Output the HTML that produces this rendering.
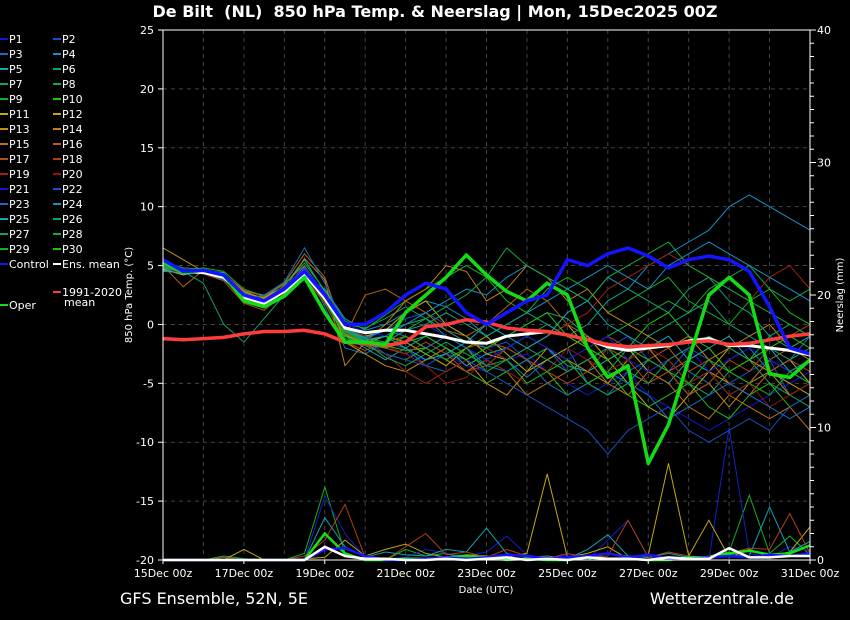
<!DOCTYPE html>
<html><head><meta charset="utf-8"><style>
html,body{margin:0;padding:0;background:#000;}
svg{display:block;font-family:"DejaVu Sans","Liberation Sans",sans-serif;}
</style></head><body>
<svg id="chart" width="850" height="620" viewBox="0 0 850 620">
<rect width="850" height="620" fill="#000"/>
<text x="435" y="17" fill="#fff" font-size="16" font-weight="bold" text-anchor="middle" style="white-space:pre">De Bilt  (NL)  850 hPa Temp. &amp; Neerslag | Mon, 15Dec2025 00Z</text>
<g id="grid"></g>
<g id="precip"></g>
<g id="temps"></g>
<g id="axes"></g>
<g id="legend"></g>
<text x="132" y="295" fill="#fff" font-size="10" text-anchor="middle" transform="rotate(-90 132 295)">850 hPa Temp. (°C)</text>
<text x="843" y="295" fill="#fff" font-size="10" text-anchor="middle" transform="rotate(-90 843 295)">Neerslag (mm)</text>
<text x="486" y="593" fill="#fff" font-size="10" text-anchor="middle">Date (UTC)</text>
<text x="120" y="604" fill="#fff" font-size="16">GFS Ensemble, 52N, 5E</text>
<text x="794" y="604" fill="#fff" font-size="16" text-anchor="end">Wetterzentrale.de</text>
</svg>
<script>
const xTickLabels=["15Dec 00z","17Dec 00z","19Dec 00z","21Dec 00z","23Dec 00z","25Dec 00z","27Dec 00z","29Dec 00z","31Dec 00z"];
const yTicks=[25,20,15,10,5,0,-5,-10,-15,-20];
const y2Ticks=[40,30,20,10,0];
const control=[5.5,4.5,4.6,4.2,2.5,2.0,3.0,4.5,2.5,0,0,1,2.5,3.5,3.0,1,0,1,2,2.5,5.5,5.0,6.0,6.5,5.8,4.8,5.5,5.8,5.5,4.5,1.5,-2,-2.5];
const ensMean=[5.3,4.5,4.4,4.0,2.3,1.8,2.8,4.3,2.2,-0.3,-0.7,-0.5,-0.5,-0.8,-1.1,-1.5,-1.6,-1.0,-0.8,-0.6,-0.9,-1.3,-1.9,-2.2,-2.0,-1.8,-1.4,-1.2,-1.8,-1.8,-2.0,-2.2,-2.6];
const oper=[5.3,4.4,4.6,4.2,2.0,1.5,2.4,4.0,1.0,-1.5,-1.5,-1.7,1.0,2.5,4.0,5.9,4.2,2.8,2.0,3.5,2.5,-2,-4.5,-3.5,-11.8,-8.5,-3,2.5,4,2.5,-4.2,-4.5,-3];
const clim=[-1.2,-1.3,-1.2,-1.1,-0.8,-0.6,-0.6,-0.5,-0.8,-1.5,-1.6,-1.8,-1.5,-0.2,0,0.4,0.2,-0.3,-0.5,-0.6,-0.9,-1.3,-1.7,-1.9,-1.8,-1.7,-1.5,-1.4,-1.7,-1.6,-1.3,-1.0,-0.8];
const p1=[5,4.4,4.6,4.1,2.2,1.8,3.2,4.8,2.0,-1,-1.5,-2,-2.5,-3,-2.5,-3.5,-4,-3,-2.5,-4,-5,-6,-5,-4,-6,-7,-8,-9,-8,-7,-6,-5,-4];
const p2=[5.2,4.6,4.4,4.2,2.6,1.5,2.8,4.0,2.5,-0.5,-1.2,-0.5,0.5,1,0,-1,-2,-1.5,-3,-2,-4,-3,-2,-1,-3,-4,-2,-3,-5,-4,-3,-6,-5];
const p3=[4.8,4.2,4.5,4.0,2.0,2.2,3.5,5.0,1.5,-2,-2.5,-1.5,-2,-3.5,-4,-3,-2,-3,-4.5,-3,-2,-5,-6,-4,-3,-2,-4,-5,-3,-2,-4,-3,-1];
const p4=[5.1,4.7,4.3,3.8,2.8,2.5,3.0,4.2,3.0,0.5,-0.5,0,1,2,1.5,0.5,-1,0,1,2,3,2,4,3,5,6,7,8,10,11,10,9,8];
const p5=[4.6,4.3,4.6,4.4,2.4,1.7,3.3,5.5,2.8,-1,-2,-3,-2,-1,-2,-3.5,-2.5,-2,-1,-2,-3.5,-4,-3,-2,-4,-5,-3,-4,-6,-5,-3,-4,-5];
const p6=[5.0,4.5,4.5,3.9,2.1,1.9,2.9,4.4,2.3,-0.8,-1.3,-1,0,0.5,-0.5,-1.5,-2,-1,0,1,0.5,-1,-2,-3,-1,0,1,2,0,-1,-2,-3,-2];
const p7=[5.3,4.8,4.7,4.3,2.7,2.1,3.1,4.6,2.6,0,-0.3,0.5,1.5,0.5,-1,-2,-3,-4,-3,-2,-3,-5,-6,-5,-3,-4,-5,-6,-4,-3,-5,-6,-7];
const p8=[4.9,4.4,4.4,4.0,2.3,1.6,2.7,4.1,2.1,-1.2,-1.8,-2.5,-3,-2,-1,-2,-3,-2,-1,0,-1,-2,-1,0,1,2,1,3,4,5,3,2,3];
const p9=[5.4,4.6,4.8,4.5,3.0,2.4,3.4,5.2,2.9,0.3,-0.4,0.8,2,3,4,5,4,2,1,3,4,3,1,2,3,4,2,1,0,2,3,1,0];
const p10=[5.0,4.3,4.5,4.1,2.4,1.8,3.0,4.5,2.4,-0.6,-1.4,-1.8,-2.2,-2,-3,-4,-5,-4,-3,-4,-6,-5,-4,-6,-7,-6,-5,-7,-8,-6,-5,-7,-6];
const p11=[5.2,4.5,4.3,3.9,2.5,2.0,2.9,4.3,2.2,-0.9,-1.6,-1,-1.5,-2.5,-3.5,-2,-1,-2.5,-4,-3,-2,-1,-3,-5,-7,-8,-6,-4,-5,-6,-4,-3,-5];
const p12=[4.7,4.2,4.6,4.2,2.6,2.3,3.2,4.7,2.7,-0.2,-1,-0.5,1,2,0,-1,-2.5,-3,-2,-1,0,-2,-3,-2,-4,-3,-5,-4,-2,-3,-4,-5,-6];
const p13=[6.5,5.5,4.5,4.2,2.8,2.2,3.1,4.9,2.6,-1.5,-2.5,-3.5,-4,-3,-2,-3,-5,-6,-4,-2,-3,-4,-5,-3,-2,-4,-6,-5,-7,-5,-4,-6,-5];
const p14=[5.1,4.6,4.5,4.0,2.3,1.9,3.0,5.6,3.8,-3.5,-1.5,0,2,3,5,4.5,2,3,5,4,2,3,1,0,-1,-2,-1,-3,-2,-1,0,-2,-3];
const p15=[5.3,4.7,4.4,4.1,2.4,2.0,3.3,4.4,2.4,-0.4,-1.1,-2,-1,-2,-3,-4,-3,-4,-6,-5,-4,-3,-5,-6,-4,-5,-7,-8,-6,-7,-8,-7,-9];
const p16=[5.0,3.2,4.6,4.3,2.9,2.4,3.5,6.0,4.0,-1,2.5,3,2,1,-0.5,-1,0,1.5,3,2,0,-1,-2,-4,-5,-4,-3,-2,-4,-5,-3,-2,-1];
const p17=[5.1,4.5,4.3,3.7,1.8,1.2,2.6,4.0,1.8,-1.5,-2.2,-1.5,-1,-2,-3,-2,-1.5,-2,-3,-4,-3,-2,-1,-2,-3,-2,-4,-3,-5,-6,-4,-3,-4];
const p18=[5.2,4.6,4.6,4.2,2.5,1.7,2.8,4.2,2.0,-0.7,-1.5,-2,-2.5,-1.5,-2.5,-4,-3.5,-2,-3,-4,-5,-4,-2,-3,-5,-4,-6,-5,-3,-4,-2,-1,0];
const p19=[5.0,4.4,4.4,4.0,2.0,1.5,2.9,4.3,2.1,-1,-1.7,-2.5,-4,-5,-4,-3,-2,-3,-2,-1,0,1,3,4,5,6,5,4,3,2,4,5,3];
const p20=[4.9,4.3,4.5,4.1,2.2,1.8,3.1,4.6,2.5,-0.3,-1,-1.8,-2.5,-3.5,-5,-4.5,-3,-4,-5,-4,-2,-3,-4,-3,-2,-3,-5,-4,-6,-5,-7,-6,-5];
const p21=[5.3,4.7,4.6,4.2,2.6,2.1,3.2,4.8,2.7,0,-0.6,-1,-0.5,0,-1,-2,-3,-2,-1,-2,-3,-2,-1,-3,-4,-3,-2,-4,-3,-2,-3,-4,-3];
const p22=[5.1,4.5,4.5,4.0,2.3,1.9,3.0,4.4,2.3,-0.5,-1.3,-2.5,-3,-3.5,-2.5,-3,-4,-5,-6,-7,-8,-9,-11,-9,-8,-7,-9,-10,-9,-8,-9,-7,-6];
const p23=[5.0,4.6,4.4,3.9,2.1,2.5,3.6,6.5,3.5,-0.2,-1.2,-0.5,-1,-2,-1,-2,-3.5,-4,-3,-5,-6,-5,-4,-5,-6,-8,-7,-6,-5,-6,-7,-8,-7];
const p24=[4.5,4.4,4.7,4.3,2.5,1.9,3.1,4.7,2.6,-0.4,-1.1,-0.5,0,1,2,3,2.5,4,5,4,3,4,5,4,3,5,6,7,6,5,4,3,2];
const p25=[4.8,4.5,4.5,4.1,2.4,2.0,3.0,4.5,2.4,-0.5,-1.4,-1,-2,-3,-2.5,-1.5,0,-1,-2,-1,1,2,0,-1,-2,-1,-3,-2,-1,-3,-2,-4,-3];
const p26=[5.2,4.6,4.4,4.2,2.5,2.0,3.0,4.4,2.4,-0.6,-1.2,-1.5,-0.5,0,1,0,-1,0,1,0,-1,0,2,3,2,1,3,4,2,1,-1,-2,-1];
const p27=[5.0,4.5,3.5,0,-1.5,0.5,2.5,4.5,2.6,-0.5,-1.5,-2.8,-3.5,-2.5,-1.5,-2.5,-3.5,-3,-2,-3,-4,-3,-2,-4,-5,-3,-2,-1,-2,-3,-1,0,-1];
const p28=[5.3,4.6,4.5,4.2,2.4,2.0,3.1,4.6,2.4,-0.4,-1.2,-1.5,-0.5,0.5,1.5,2.5,4,6.5,5,4,3,2,4,5,6,7,5,4,3,2,1,0,-1];
const p29=[5.1,4.5,4.6,4.1,2.3,1.9,3.0,4.4,2.1,-0.8,-1.5,-2,-1,-2,-3,-2,-4,-3,-5,-4,-3,-5,-4,-2,-3,-4,-5,-3,-4,-5,-6,-4,-5];
const p30=[4.9,4.4,4.5,4.0,2.2,1.8,2.9,4.3,2.0,-1,-1.7,-2,-1.5,-1,-2,-3,-2,-1,0,1,-1,-2,-3,-2,0,1,-1,-2,-4,-3,-2,-1,-2];
const members=[p1,p2,p3,p4,p5,p6,p7,p8,p9,p10,p11,p12,p13,p14,p15,p16,p17,p18,p19,p20,p21,p22,p23,p24,p25,p26,p27,p28,p29,p30];
const colors=["#1414d2","#1450c0","#1470c0","#1490c8","#14a8b4","#14a080","#14a060","#14a840","#14b020","#20c010","#b4b414","#c0a814","#c09014","#c08014","#c07014","#b06014","#b05014","#b04014","#a02014","#901414"];
/* precipitation (mm per 12h) */
const precMean=[0,0,0,0,0,0,0,0,1.0,0.3,0.1,0.1,0,0,0.1,0,0.1,0.2,0,0.1,0,0.2,0.1,0.1,0,0.2,0.1,0.1,0.9,0.2,0.2,0.3,0.3];
const precControl=[0,0,0,0,0,0,0,0,0.8,0.9,0.3,0,0,0.1,0.2,0.1,0.2,0.4,0.3,0.1,0.2,0.3,0.5,0.2,0.4,0.1,0.1,0.2,0.3,0.2,0.4,0.3,0.5];
const precOper=[0,0,0,0,0,0,0,0,2.0,0.5,0,0,0.1,0.1,0.2,0.3,0.2,0,0.1,0,0,0.2,0.1,0.1,0,0,0.2,0.2,0.5,0.7,0.4,0.5,1.1];
const precA=[0,0,0,0.3,0.1,0,0,0.5,5.5,0.5,0,0,0.8,0.3,0.5,0.1,0,0.4,0.3,0,0.2,0,0.5,0.3,0.2,0,0.1,0.3,0.6,4.9,0.5,1.8,0.4];
const precB=[0,0,0,0,0,0,0,0,4.8,2.0,0.2,0.1,0.2,0.8,0.5,0.3,0.6,1.8,0.4,0.1,0.4,0,1.5,3.0,0.2,0.1,0.3,0,10,0.5,0.2,1.0,0.7];
const precC=[0,0,0,0,0.8,0,0,0.1,0.2,1.5,0.3,0.8,1.2,0.5,0.2,0.4,0.3,0.2,0.5,6.5,0.2,0.5,1.0,0.1,0.4,7.3,0.3,3.0,0.2,0.8,0.3,0.6,2.5];
const precD=[0,0,0,0,0,0,0,0,3.2,1.0,0.2,0.6,0.4,0.3,0.8,0.6,2.4,0.5,0.2,0.3,0.1,0.8,1.9,0.3,0.2,0.5,0.2,0.1,0.4,0.3,4.0,0.6,1.4];
const precE=[0,0,0,0.2,0,0,0,0.3,1.5,4.2,0.2,0,1.0,2.0,0.4,0.6,0.2,0.8,0.3,0.1,0.5,0.2,0.3,3.0,0.2,0.6,0.3,0.2,0.5,0.9,0.8,3.5,0.5];
const precMembers=[precA,precB,precC,precD,precE];
const precColors=["#14b020","#1420c0","#c0a814","#14a0b4","#b04014"];

const X0=163,X1=810,Y0=30,Y1=560;
const nPts=control.length;
function xs(i){return X0+(X1-X0)*i/(nPts-1);}
function ys(t){return Y0+(25-t)*(Y1-Y0)/45;}
function yp(mm){return Y1-mm*(Y1-Y0)/40;}
const NS="http://www.w3.org/2000/svg";
function mk(tag,attrs,parent){const e=document.createElementNS(NS,tag);for(const k in attrs)e.setAttribute(k,attrs[k]);parent.appendChild(e);return e;}
const grid=document.getElementById('grid'),axes=document.getElementById('axes'),temps=document.getElementById('temps'),precip=document.getElementById('precip'),legend=document.getElementById('legend');
for(let d=1;d<16;d++){const x=X0+(X1-X0)*d/16;
 const l=mk('line',{x1:x,x2:x,y1:Y0,y2:Y1,stroke:'#444','stroke-dasharray':'4,4','stroke-width':1},grid);
 
 }
yTicks.forEach(t=>{const y=ys(t);
 if(t<25&&t>-20){const l=mk('line',{x1:X0,x2:X1,y1:y,y2:y,stroke:'#444','stroke-dasharray':'4,4','stroke-width':1},grid);
 
 }
 mk('line',{x1:X0-5,x2:X0,y1:y,y2:y,stroke:'#fff'},axes);
 const tx=mk('text',{x:X0-9,y:y+4,fill:'#fff','font-size':11,'text-anchor':'end'},axes);tx.textContent=t;
 
 });
for(let m=0;m<=40;m++){const y=yp(m);mk('line',{x1:X1,x2:X1+(m%10==0?6:4),y1:y,y2:y,stroke:'#fff'},axes);}
y2Ticks.forEach(m=>{const tx=mk('text',{x:X1+7,y:yp(m)+4,fill:'#fff','font-size':11},axes);tx.textContent=m;
 
 });
xTickLabels.forEach((s,i)=>{const x=X0+(X1-X0)*i/8;mk('line',{x1:x,x2:x,y1:Y1,y2:Y1+4,stroke:'#fff'},axes);
 const tx=mk('text',{x:x,y:Y1+17,fill:'#fff','font-size':11,'text-anchor':'middle'},axes);tx.textContent=s;
 
 });
mk('line',{x1:X0,x2:X0,y1:Y0,y2:Y1,stroke:'#fff'},axes);
mk('line',{x1:X1,x2:X1,y1:Y0,y2:Y1,stroke:'#fff'},axes);
mk('line',{x1:X0,x2:X1,y1:Y1,y2:Y1,stroke:'#fff'},axes);
mk('line',{x1:X0,x2:X1,y1:Y0,y2:Y0,stroke:'#fff'},axes);
function pts(arr,f){return arr.map((v,i)=>xs(i).toFixed(1)+','+f(v).toFixed(1)).join(' ');}
precMembers.forEach((a,i)=>{const p=mk('polyline',{points:pts(a,yp),fill:'none',stroke:precColors[i],'stroke-width':1},precip);
 
 });
[[precOper,'#14e014',2.5,'precip-oper'],[precControl,'#1414ff',2.5,'precip-control'],[precMean,'#fff',2.5,'precip-mean']].forEach(s=>{
 const p=mk('polyline',{points:pts(s[0],yp),fill:'none',stroke:s[1],'stroke-width':s[2]},precip);
 
 });
members.forEach((a,i)=>{const p=mk('polyline',{points:pts(a,ys),fill:'none',stroke:colors[i%20],'stroke-width':1},temps);
 
 });
[[ensMean,'#ffffff',3,'ens-mean-line'],[clim,'#ff3c3c',3.5,'climate-mean-line'],[oper,'#14dc14',3.5,'oper-line'],[control,'#1414ff',3.5,'control-line']].forEach(s=>{
 const p=mk('polyline',{points:pts(s[0],ys),fill:'none',stroke:s[1],'stroke-width':s[2],'stroke-linejoin':'round'},temps);
 
 });
for(let i=0;i<30;i++){const col=i%2,row=Math.floor(i/2);const x=col?53:0,y=39+row*15;
 mk('line',{x1:x,x2:x+8,y1:y,y2:y,stroke:colors[i%20],'stroke-width':2},legend);
 const tx=mk('text',{x:x+9,y:y+4,fill:'#fff','font-size':11},legend);tx.textContent='P'+(i+1);
 
 }
[[0,264,'#1414ff','Control'],[53,264,'#fff','Ens. mean'],[0,305,'#14dc14','Oper'],[53,292,'#ff3c3c','1991-2020']].forEach(e=>{
 mk('line',{x1:e[0],x2:e[0]+8,y1:e[1],y2:e[1],stroke:e[2],'stroke-width':2},legend);
 const tx=mk('text',{x:e[0]+9,y:e[1]+4,fill:'#fff','font-size':11},legend);tx.textContent=e[3];
 
 });
const tm=mk('text',{x:64,y:306,fill:'#fff','font-size':11},legend);tm.textContent='mean';


</script>
</body></html>
